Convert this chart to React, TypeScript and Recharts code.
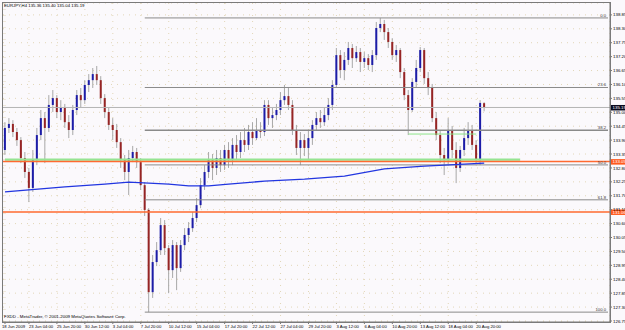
import React from "react";
import { ComposedChart, Bar, Line, XAxis, YAxis, CartesianGrid, ReferenceLine } from "recharts";

// EURJPY H4 candles (oldest first)
const opens = [
  133.51, 134.38, 134.54, 134.22, 133.90, 133.19, 132.64, 132.01, 133.11, 134.10,
  134.77, 134.38, 135.29, 135.56, 135.01, 135.17, 134.61, 134.30, 135.09, 135.68,
  135.48, 136.08, 136.27, 136.51, 136.27, 135.56, 135.01, 134.50, 134.30, 133.82,
  133.11, 132.64, 133.19, 133.43, 133.03, 132.12, 131.14, 127.89, 129.08, 129.55,
  130.54, 129.63, 128.76, 129.75, 128.84, 129.75, 130.15, 130.42, 130.82, 131.33,
  132.12, 132.64, 133.11, 132.80, 133.19, 132.91, 133.51, 133.11, 133.71, 133.43,
  133.90, 133.71, 134.22, 133.98, 134.30, 134.22, 135.29, 134.77, 134.89, 135.09,
  135.48, 135.64, 135.29, 134.30, 133.59, 133.90, 133.59, 133.98, 134.50, 134.77,
  134.61, 134.89, 135.29, 136.08, 137.26, 136.67, 137.07, 137.54, 137.14, 137.38,
  136.99, 137.14, 136.87, 137.26, 138.33, 138.49, 138.17, 137.78, 137.26, 137.46,
  136.59, 135.68, 135.09, 136.20, 136.75, 137.46, 136.35, 135.96, 134.77, 134.10,
  133.31, 133.11, 134.30, 133.51, 132.80, 133.51, 133.98, 134.30, 133.71, 133.11,
  135.36,
];
const highs = [
  134.61, 134.77, 134.69, 134.38, 134.02, 133.43, 132.80, 133.51, 134.38, 135.09,
  135.01, 135.68, 135.88, 135.68, 135.48, 135.33, 134.89, 135.29, 135.88, 135.96,
  136.27, 136.51, 136.75, 136.83, 136.43, 135.72, 135.17, 134.77, 134.54, 133.98,
  133.31, 133.51, 133.67, 133.59, 133.19, 132.24, 131.21, 129.36, 129.87, 130.82,
  130.74, 129.75, 129.95, 129.87, 129.95, 130.42, 130.66, 131.06, 131.61, 132.40,
  132.91, 133.43, 133.35, 133.51, 133.51, 133.71, 133.82, 133.98, 134.10, 134.22,
  134.38, 134.50, 134.61, 134.77, 134.61, 135.48, 135.48, 135.17, 135.33, 135.80,
  136.08, 135.96, 135.48, 134.50, 134.22, 134.14, 134.30, 134.69, 135.01, 135.09,
  135.17, 135.56, 136.27, 137.54, 137.46, 137.38, 137.78, 137.70, 137.62, 137.54,
  137.38, 137.30, 137.46, 138.57, 138.73, 138.65, 138.33, 137.93, 137.66, 137.54,
  136.75, 135.88, 136.35, 137.07, 137.58, 137.54, 136.59, 136.12, 135.01, 134.30,
  133.59, 134.77, 134.46, 133.82, 133.67, 134.38, 134.61, 134.50, 133.90, 135.48,
  135.40,
];
const lows = [
  133.31, 134.18, 134.02, 133.67, 132.99, 132.40, 131.45, 131.85, 132.91, 133.90,
  132.99, 134.22, 135.01, 134.77, 134.69, 134.38, 133.98, 134.10, 134.89, 135.17,
  135.33, 135.80, 135.96, 136.08, 135.33, 134.77, 134.30, 133.90, 133.59, 132.80,
  132.32, 131.73, 133.03, 132.80, 131.93, 130.90, 127.10, 127.66, 128.92, 129.36,
  129.36, 127.85, 128.45, 127.97, 128.69, 129.55, 129.87, 130.27, 130.66, 131.21,
  131.93, 132.40, 132.32, 132.52, 132.64, 132.72, 132.80, 132.91, 133.11, 133.19,
  133.43, 133.51, 133.71, 133.90, 133.98, 134.06, 134.50, 134.38, 134.69, 134.89,
  135.29, 135.09, 134.10, 133.31, 132.91, 133.27, 133.11, 133.71, 134.30, 134.38,
  134.46, 134.69, 135.09, 135.96, 136.35, 136.27, 136.87, 136.75, 136.99, 136.59,
  136.75, 136.67, 136.59, 137.07, 138.17, 137.86, 137.54, 137.07, 136.99, 136.35,
  135.48, 134.10, 135.01, 135.96, 136.59, 136.12, 135.68, 134.61, 133.90, 132.99,
  132.52, 132.95, 133.19, 132.20, 132.64, 133.27, 133.71, 133.51, 132.99, 132.91,
  135.04,
];
const closes = [
  134.38, 134.54, 134.22, 133.90, 133.19, 132.64, 132.01, 133.11, 134.10, 134.77,
  134.38, 135.29, 135.56, 135.01, 135.17, 134.61, 134.30, 135.09, 135.68, 135.48,
  136.08, 136.27, 136.51, 136.27, 135.56, 135.01, 134.50, 134.30, 133.82, 133.11,
  132.64, 133.19, 133.43, 133.03, 132.12, 131.14, 127.89, 129.08, 129.55, 130.54,
  129.63, 128.76, 129.75, 128.84, 129.75, 130.15, 130.42, 130.82, 131.33, 132.12,
  132.64, 133.11, 132.80, 133.19, 132.91, 133.51, 133.11, 133.71, 133.43, 133.90,
  133.71, 134.22, 133.98, 134.30, 134.22, 135.29, 134.77, 134.89, 135.09, 135.48,
  135.64, 135.29, 134.30, 133.59, 133.90, 133.59, 133.98, 134.50, 134.77, 134.61,
  134.89, 135.29, 136.08, 137.26, 136.67, 137.07, 137.54, 137.14, 137.38, 136.99,
  137.14, 136.87, 137.26, 138.33, 138.49, 138.17, 137.78, 137.26, 137.46, 136.59,
  135.68, 135.09, 136.20, 136.75, 137.46, 136.35, 135.96, 134.77, 134.10, 133.31,
  133.11, 134.30, 133.51, 132.80, 133.51, 133.98, 134.30, 133.71, 133.11, 135.37,
  135.19,
];

// moving average, read at a few bars
const maBars = [0, 6, 15, 25, 31, 36, 41, 46, 51, 56, 65, 75, 85, 95, 105, 115, 120];
const maValues = [131.85, 131.93, 132.05, 132.16, 132.24, 132.20, 132.16, 132.09, 132.09, 132.16, 132.28, 132.36, 132.48, 132.76, 132.87, 132.95, 132.99];

const timeTicks = [0, 6, 13, 20, 27, 34, 41, 48, 55, 62, 69, 76, 83, 90, 97, 104, 111, 118];
const timeLabels = [
  "18 Jun 2009", "23 Jun 04:00", "25 Jun 20:00", "30 Jun 12:00", "3 Jul 04:00", "7 Jul 20:00",
  "10 Jul 12:00", "15 Jul 04:00", "17 Jul 20:00", "22 Jul 12:00", "27 Jul 04:00", "29 Jul 20:00",
  "3 Aug 12:00", "6 Aug 04:00", "10 Aug 20:00", "13 Aug 12:00", "18 Aug 04:00", "20 Aug 20:00",
];
const priceTicks = [
  138.85, 138.3, 137.75, 137.2, 136.65, 136.1, 135.55, 135.0, 134.45, 133.9, 133.35, 132.8,
  132.25, 131.7, 131.15, 130.6, 130.05, 129.5, 128.95, 128.4, 127.85, 127.3, 126.75,
];

const fibNames = ["0.0", "23.6", "38.2", "50.0", "61.8", "100.0"];
const fibPrices = [138.73, 135.98, 134.29, 132.92, 131.54, 127.1];
const orangeLevels = [133.05, 131.06];
const greenLevel = 133.13;
const greenShort = 134.14;
const bid = 135.19;

const SLOTS = 152;
const FONT = "'Liberation Sans', Arial, sans-serif";

const data = Array.from({ length: SLOTS }, (_, i) => {
  const row: any = { i };
  if (i < closes.length) {
    row.range = [lows[i], highs[i]];
    row.o = opens[i];
    row.h = highs[i];
    row.l = lows[i];
    row.c = closes[i];
  }
  const k = maBars.indexOf(i);
  if (k >= 0) row.ma = maValues[k];
  return row;
});

function Candle(props: any) {
  const { x, y, width, height, payload } = props;
  if (!payload || payload.o == null) return null;
  const top = Math.min(y, y + height);
  const bot = Math.max(y, y + height);
  const span = payload.h - payload.l || 1;
  const py = (p: number) => top + ((payload.h - p) / span) * (bot - top);
  const cx = x + width / 2;
  const up = payload.c >= payload.o;
  const b1 = py(Math.max(payload.o, payload.c));
  const b2 = py(Math.min(payload.o, payload.c));
  return (
    <g>
      <line x1={cx} x2={cx} y1={top} y2={bot} stroke="#a8a8a8" strokeWidth={1} />
      <rect x={cx - 1} y={b1} width={2} height={Math.max(0.8, b2 - b1)} fill={up ? "#1c1ca8" : "#962424"} />
    </g>
  );
}

function TimeTick(props: any) {
  const { x, y, payload } = props;
  const k = timeTicks.indexOf(payload.value);
  return (
    <text x={k === 0 ? 2 : x} y={y + 4} fontSize={4.2} fontFamily={FONT} fill="#000" textAnchor="start">
      {timeLabels[k]}
    </text>
  );
}

function PriceTick(props: any) {
  const { x, y, payload } = props;
  return (
    <text x={x} y={y + 1.6} fontSize={4.4} fontFamily={FONT} fill="#000" textAnchor="start">
      {Number(payload.value).toFixed(2)}
    </text>
  );
}

function FibLabel(props: any) {
  const { viewBox, text } = props;
  if (!viewBox) return null;
  return (
    <text x={viewBox.x + viewBox.width - 2} y={viewBox.y - 1.2} fontSize={4.2} fontFamily={FONT} fill="#333" textAnchor="end">
      {text}
    </text>
  );
}

function PriceTag(props: any) {
  const { viewBox, text, color } = props;
  if (!viewBox) return null;
  const x0 = viewBox.x + viewBox.width + 1;
  return (
    <g>
      <rect x={x0} y={viewBox.y - 2.5} width={15} height={5.5} fill={color} />
      <text x={x0 + 1.5} y={viewBox.y + 1.6} fontSize={4.4} fontFamily={FONT} fill="#fff">
        {text}
      </text>
    </g>
  );
}

export default function App() {
  return (
    <div style={{ position: "absolute", left: 0, top: 0, width: 625, height: 330, background: "#fbf9fc", fontFamily: FONT }}>
      <ComposedChart width={625} height={330} data={data} margin={{ top: 3, right: 0, left: 3, bottom: 0 }}>
        <CartesianGrid stroke="#e2d6b8" strokeDasharray="1 5" />
        <XAxis
          dataKey="i"
          ticks={timeTicks}
          interval={0}
          height={8}
          tick={<TimeTick />}
          tickSize={2}
          tickMargin={0}
          axisLine={{ stroke: "#777" }}
          tickLine={{ stroke: "#777" }}
        />
        <YAxis
          orientation="right"
          type="number"
          domain={[126.71, 139.32]}
          allowDataOverflow
          ticks={priceTicks}
          interval={0}
          width={15}
          tick={<PriceTick />}
          tickSize={2}
          tickMargin={1}
          axisLine={{ stroke: "#777" }}
          tickLine={{ stroke: "#777" }}
        />
        {/* horizontal levels */}
        <ReferenceLine y={bid} stroke="#b4b4b4" label={<PriceTag text="135.19" color="#0a0a1e" />} />
        <ReferenceLine
          segment={[{ x: 0, y: greenLevel }, { x: 129, y: greenLevel }]}
          stroke="#96e492"
          strokeWidth={2.2}
        />
        {orangeLevels.map((p) => (
          <ReferenceLine key={p} y={p} stroke="#ff6a30" strokeWidth={1.5} label={<PriceTag text={p.toFixed(2)} color="#ff5a1e" />} />
        ))}
        <ReferenceLine segment={[{ x: 101, y: greenShort }, { x: 118, y: greenShort }]} stroke="#8ee48a" strokeWidth={1} />
        {fibPrices.map((p, k) => (
          <ReferenceLine
            key={fibNames[k]}
            segment={[{ x: 35, y: p }, { x: SLOTS - 1, y: p }]}
            stroke="#8a8a8a"
            strokeWidth={k === 2 ? 1.5 : 1}
            label={<FibLabel text={fibNames[k]} />}
          />
        ))}
        <Bar dataKey="range" shape={<Candle />} isAnimationActive={false} />
        <Line dataKey="ma" type="linear" connectNulls dot={false} stroke="#2236e0" strokeWidth={1.3} isAnimationActive={false} />
      </ComposedChart>
      <div style={{ position: "absolute", left: 2, top: 2, width: 607, height: 319, border: "1px solid #7a7a7a", pointerEvents: "none" }} />
      <div style={{ position: "absolute", left: 4, top: 3, fontSize: 4.3, color: "#000", whiteSpace: "nowrap" }}>
        EURJPY,H4 135.36 135.40 135.04 135.19
      </div>
      <div style={{ position: "absolute", left: 4, top: 314, fontSize: 4.4, color: "#000", whiteSpace: "nowrap" }}>
        FXDD - MetaTrader, © 2001-2009 MetaQuotes Software Corp.
      </div>
    </div>
  );
}
